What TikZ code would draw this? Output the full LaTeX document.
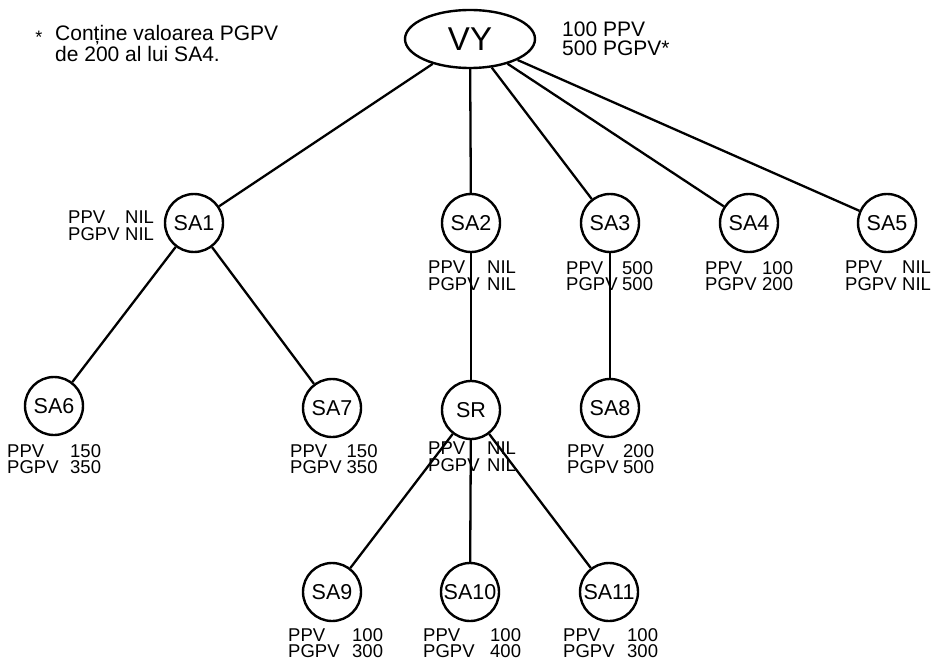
\documentclass[tikz,border=0pt]{standalone}
\usepackage{fontspec}
\setmainfont{Liberation Sans}
\usetikzlibrary{shapes.geometric}
\newcommand{\ppvlab}[3]{\makebox[#1pt][l]{PPV}#2\\\makebox[#1pt][l]{PGPV}#3}
\tikzset{
  sa/.style={circle, draw, line width=2.4pt, minimum size=58pt, inner sep=0pt, font=\fontsize{21.5}{24}\selectfont},
  root/.style={ellipse, draw, line width=2.4pt, minimum width=130pt, minimum height=58pt, inner sep=0pt, font=\fontsize{33}{36}\selectfont},
  edge/.style={line width=2.3pt},
  lab/.style={anchor=north west, inner sep=0pt, align=left, font=\fontsize{18.5}{16.5}\selectfont},
  note/.style={anchor=north west, inner sep=0pt, align=left, font=\fontsize{21}{18.5}\selectfont},
}
\begin{document}
\begin{tikzpicture}[x=1pt, y=-1pt]
\useasboundingbox (0,0) rectangle (933,660);
% nodes
\node[root] (vy) at (470,39) {VY};
\node[sa] (sa1) at (194,223) {SA1};
\node[sa] (sa2) at (471,223) {SA2};
\node[sa] (sa3) at (610,223) {SA3};
\node[sa] (sa4) at (749,223) {SA4};
\node[sa] (sa5) at (887,223) {SA5};
\node[sa] (sa6) at (54,406) {SA6};
\node[sa] (sa7) at (332,408) {SA7};
\node[sa] (sr)  at (471,410) {SR};
\node[sa] (sa8) at (610,408) {SA8};
\node[sa] (sa9)  at (332,592) {SA9};
\node[sa] (sa10) at (470,592) {SA10};
\node[sa] (sa11) at (609,592) {SA11};
% edges
\draw[edge] (vy) -- (sa1);
\draw[edge] (vy) -- (sa2);
\draw[edge] (vy) -- (sa3);
\draw[edge] (vy) -- (sa4);
\draw[edge] (vy) -- (sa5);
\draw[edge] (sa1) -- (sa6);
\draw[edge] (sa1) -- (sa7);
\draw[edge] (sa2) -- (sr);
\draw[edge] (sa3) -- (sa8);
\draw[edge] (sr) -- (sa9);
\draw[edge] (sr) -- (sa10);
\draw[edge] (sr) -- (sa11);
% labels
\node[lab] (l1) at (68,211) {\ppvlab{57}{NIL}{NIL}};
\node[lab] (l2) at (428,261) {\ppvlab{59}{NIL}{NIL}};
\node[lab] (l3) at (566,261) {\ppvlab{56}{500}{500}};
\node[lab] (l4) at (705,261) {\ppvlab{57}{100}{200}};
\node[lab] (l5) at (845,261) {\ppvlab{57}{NIL}{NIL}};
\node[lab] (l6) at (7,444) {\ppvlab{63}{150}{350}};
\node[lab] (l7) at (290,444) {\ppvlab{56.5}{150}{350}};
\node[lab] (lr) at (428,442) {\ppvlab{59}{NIL}{NIL}};
\node[lab] (l8) at (567,444) {\ppvlab{56}{200}{500}};
\node[lab] (l9) at (288,628) {\ppvlab{64}{100}{300}};
\node[lab] (l10) at (423,628) {\ppvlab{67}{100}{400}};
\node[lab] (l11) at (563,628) {\ppvlab{64}{100}{300}};
% notes
\node[note] (vyval) at (562,22) {100 PPV\\500 PGPV*};
\node[inner sep=0pt, font=\fontsize{18}{18}\selectfont] (star) at (39,37) {*};
\node[note] (fn) at (55,25) {Conține valoarea PGPV\\de 200 al lui SA4.};
\end{tikzpicture}
\end{document}
